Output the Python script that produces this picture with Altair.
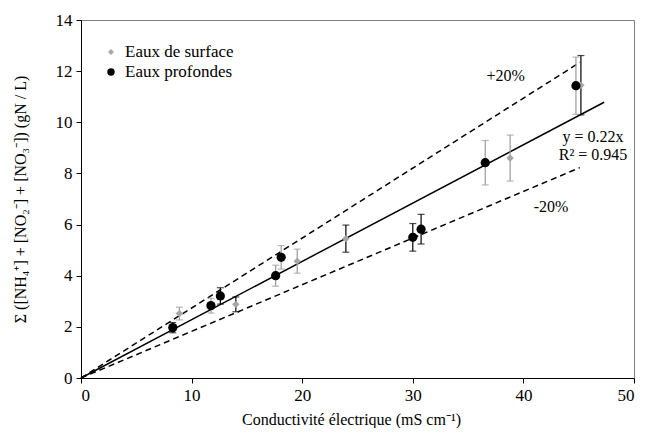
import altair as alt
import pandas as pd

FONT = "Liberation Serif"

# ---- data ----
surface_x = [8.9, 14.0, 19.55, 23.95, 38.8, 45.2]
surface_y = [2.52, 2.88, 4.57, 5.45, 8.6, 11.45]
surface_err = [0.25, 0.29, 0.47, 0.53, 0.9, 1.16]
surface_errcol = ["#9a9a9a", "#000000", "#9a9a9a", "#000000", "#9a9a9a", "#000000"]

deep_x = [8.3, 11.75, 12.6, 17.6, 18.1, 30.0, 30.75, 36.55, 44.75]
deep_y = [1.97, 2.83, 3.21, 4.0, 4.72, 5.5, 5.82, 8.42, 11.43]
deep_err = [0.2, 0.29, 0.32, 0.41, 0.46, 0.54, 0.58, 0.87, 1.12]
deep_errcol = ["#000000", "#9a9a9a", "#000000", "#9a9a9a", "#9a9a9a", "#000000", "#000000", "#9a9a9a", "#9a9a9a"]

series_names = ["Eaux de surface", "Eaux profondes"]
series_colors = ["#a6a6a6", "#000000"]
series_shapes = ["diamond", "circle"]

slope = 0.228
fit_xmax = 47.3
band_xmax = 45.1

ann_text = ["+20%", "y = 0.22x", "R² = 0.945", "-20%"]
ann_x = [38.4, 46.3, 46.3, 42.5]
ann_y = [11.8, 9.42, 8.72, 6.69]

x_ticks = [0, 10, 20, 30, 40, 50]
y_ticks = [0, 2, 4, 6, 8, 10, 12, 14]

# ---- tables ----
pts = pd.DataFrame({
    "x": surface_x + deep_x,
    "y": surface_y + deep_y,
    "err": surface_err + deep_err,
    "ecol": surface_errcol + deep_errcol,
    "serie": [series_names[0]] * len(surface_x) + [series_names[1]] * len(deep_x),
})
pts["lo"] = pts["y"] - pts["err"]
pts["hi"] = pts["y"] + pts["err"]

lines = pd.DataFrame({
    "x": [0, fit_xmax, 0, band_xmax, 0, band_xmax],
    "y": [0, slope * fit_xmax, 0, slope * 1.2 * band_xmax, 0, slope * 0.8 * band_xmax],
    "line": ["fit", "fit", "plus", "plus", "minus", "minus"],
})

ann = pd.DataFrame({"x": ann_x, "y": ann_y, "t": ann_text})

xs = alt.Scale(domain=[0, 50], nice=False, zero=False)
ys = alt.Scale(domain=[0, 14], nice=False, zero=False)

X = alt.X("x:Q", scale=xs, axis=alt.Axis(
    values=x_ticks, title="Conductivité électrique (mS cm⁻¹)",
    titleX=270, titleY=41, titleBaseline="middle",
    labelFont=FONT, titleFont=FONT))
Y = alt.Y("y:Q", scale=ys, axis=alt.Axis(
    values=y_ticks, title="Σ ([NH₄⁺] + [NO₂⁻] + [NO₃⁻]) (gN / L)",
    titleX=-61, titleY=179, titleAngle=-90, titleAlign="center", titleBaseline="middle",
    labelFont=FONT, titleFont=FONT))

fit = alt.Chart(lines[lines.line == "fit"]).mark_line(color="black", strokeWidth=1.5).encode(
    x=X, y=Y, detail="line:N")
bands = alt.Chart(lines[lines.line != "fit"]).mark_line(
    color="black", strokeWidth=1.5, strokeDash=[6, 4]).encode(
    x="x:Q", y="y:Q", detail="line:N")

ebar = alt.Chart(pts).mark_rule(strokeWidth=1.2).encode(
    x="x:Q", y="lo:Q", y2="hi:Q", color=alt.Color("ecol:N", scale=None))
cap_lo = alt.Chart(pts).mark_tick(orient="horizontal", size=7, thickness=1.2).encode(
    x="x:Q", y="lo:Q", color=alt.Color("ecol:N", scale=None))
cap_hi = alt.Chart(pts).mark_tick(orient="horizontal", size=7, thickness=1.2).encode(
    x="x:Q", y="hi:Q", color=alt.Color("ecol:N", scale=None))

points = alt.Chart(pts).mark_point(filled=True, opacity=1).encode(
    x="x:Q", y="y:Q",
    color=alt.Color("serie:N", scale=alt.Scale(domain=series_names, range=series_colors), legend=None),
    shape=alt.Shape("serie:N", scale=alt.Scale(domain=series_names, range=series_shapes), legend=None),
    size=alt.Size("serie:N", scale=alt.Scale(domain=series_names, range=[55, 85]), legend=None),
)

texts = alt.Chart(ann).mark_text(font=FONT, fontSize=16, color="black", align="center",
                                 baseline="middle").encode(x="x:Q", y="y:Q", text="t:N")

# hand-placed legend (pixel positions inside the plot area), one row per entry
legend_layers = []
for i, name in enumerate(series_names):
    ypix = 32 + 20 * i
    one = pd.DataFrame({"serie": [name]})
    legend_layers.append(
        alt.Chart(one).mark_point(filled=True, opacity=1, shape=series_shapes[i],
                                  color=series_colors[i], size=[35, 55][i]).encode(
            x=alt.value(30), y=alt.value(ypix)))
    legend_layers.append(
        alt.Chart(one).mark_text(font=FONT, fontSize=17, color="black", align="left",
                                 baseline="middle").encode(
            x=alt.value(44), y=alt.value(ypix), text="serie:N"))

chart = alt.layer(fit, bands, ebar, cap_lo, cap_hi, points, texts, *legend_layers).properties(
    width=553, height=358,
    autosize=alt.AutoSizeParams(type="none"),
    padding={"left": 73, "top": 12, "right": 4, "bottom": 50},
).configure(font=FONT).configure_view(stroke="#808080", strokeWidth=1).configure_axis(
    grid=False, domainColor="black", tickColor="black", tickSize=5,
    labelFont=FONT, labelFontSize=17, labelColor="black", labelPadding=4,
    titleFont=FONT, titleFontSize=16, titleColor="black", titleFontWeight="normal",
)

chart.save("out.html", embed_options={"renderer": "svg", "actions": False})
